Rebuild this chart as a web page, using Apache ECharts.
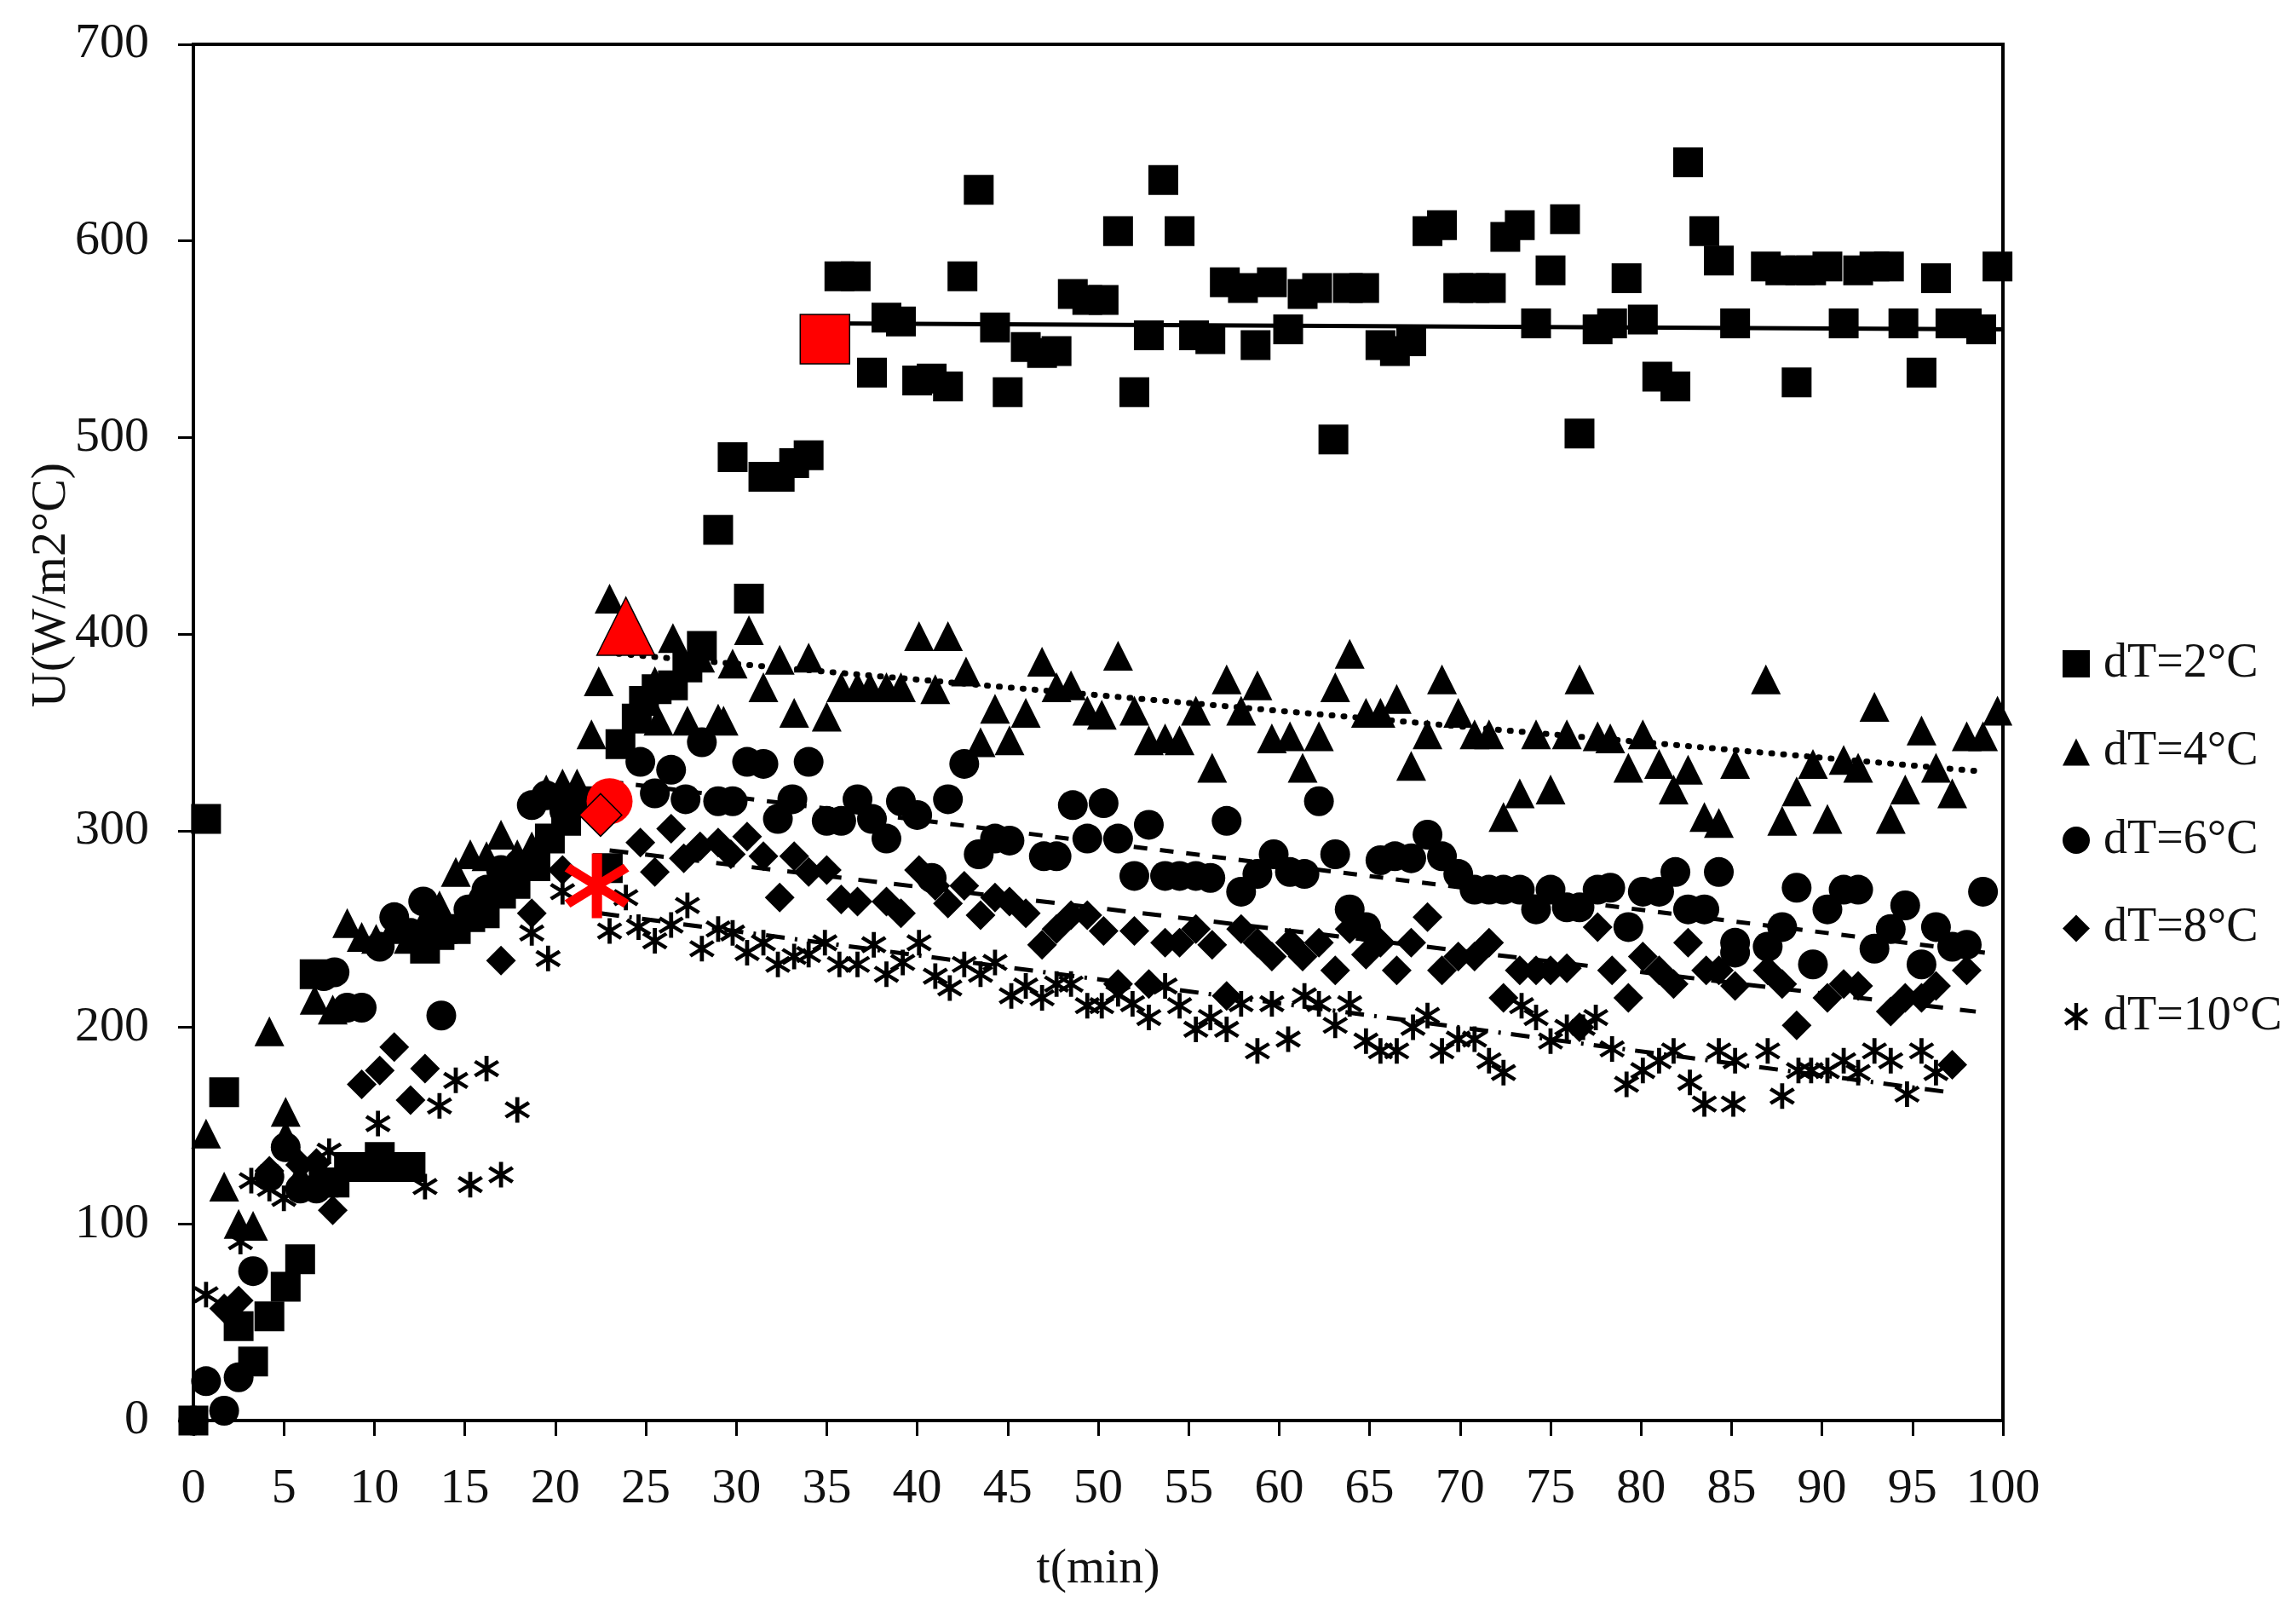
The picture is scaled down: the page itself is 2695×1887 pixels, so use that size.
<!DOCTYPE html>
<html><head><meta charset="utf-8">
<style>html,body{margin:0;padding:0;background:#fff}#c{width:2695px;height:1887px}</style>
<script src="https://cdn.jsdelivr.net/npm/echarts@6/dist/echarts.min.js"></script>
</head><body><div id="c"></div>
<script>
const xTicks = {min:0, max:100, step:5};
const yTicks = {min:0, max:700, step:100};
const seriesNames = ['dT=2°C','dT=4°C','dT=6°C','dT=8°C','dT=10°C'];

const dT2 = [[0,0],[0.7,306],[1.7,167],[2.5,48],[3.3,30],[4.2,53],[5.1,68],[5.9,82],[6.7,227],[7.2,121],[7.8,121],[8.6,129],[9.5,129],[10.3,134],[11.1,129],[12,129],[12.8,240],[13.6,247],[14.5,250],[15.3,256],[16.1,258],[17,268],[17.8,273],[18.9,282],[19.7,296],[20.6,305],[21.5,315],[22.9,281],[23.6,344],[24.5,357],[24.9,366],[25.6,372],[26.5,374],[27.3,383],[28.1,394],[29,453],[29.8,490],[30.7,418],[31.5,480],[32.4,480],[33.2,487],[34,491],[35.7,582],[36.6,582],[37.5,533],[38.3,561],[39.1,559],[40,529],[40.8,530],[41.7,526],[42.5,582],[43.4,626],[44.3,556],[45,523],[46,546],[46.9,543],[47.7,544],[48.6,573],[49.4,570],[50.3,570],[51.1,605],[52,523],[52.8,552],[53.6,631],[54.5,605],[55.3,552],[56.2,550],[57,579],[58,576],[58.7,547],[59.6,579],[60.5,555],[61.3,573],[62.1,576],[63,499],[63.8,576],[64.7,576],[65.6,547],[66.4,544],[67.3,549],[68.2,605],[69,608],[69.9,576],[70.8,576],[71.7,576],[72.5,602],[73.3,608],[74.2,558],[75,585],[75.8,611],[76.6,502],[77.6,555],[78.4,558],[79.2,581],[80.1,560],[80.9,531],[81.9,526],[82.6,640],[83.5,605],[84.3,590],[85.2,558],[86.9,587],[87.7,585],[88.6,528],[88.8,585],[89.4,585],[90.3,587],[91.2,558],[92,585],[92.9,587],[93.7,587],[94.5,558],[95.5,533],[96.3,581],[97.1,558],[98,558],[98.8,555],[99.7,587]];

const dT4 = [[0.7,146],[1.7,119],[2.5,100],[3.3,99],[4.2,198],[5.1,157],[5.1,145],[5.9,125],[6.7,214],[7.7,209],[8.5,253],[9.3,246],[10.1,245],[11,250],[11.9,245],[12.8,255],[13.6,262],[14.5,279],[15.3,288],[16.2,287],[17,298],[17.9,288],[18.7,292],[19.5,321],[20.4,324],[21.2,324],[22,349],[22.4,376],[23,418],[25.5,376],[25.7,356],[26.5,398],[27.3,356],[28,388],[29,357],[29.3,356],[29.8,385],[30.7,402],[31.5,373],[32.4,387],[33.2,360],[34,388],[35,358],[35.8,373],[36.7,373],[37.4,373],[38.3,373],[39.1,373],[40.1,399],[41,372],[41.7,399],[42.7,381],[43.5,345],[44.3,362],[45.1,346],[46,360],[46.9,386],[47.7,373],[48.5,374],[49.4,361],[50.2,359],[51.1,389],[52,361],[52.8,346],[53.7,347],[54.5,346],[55.4,361],[56.3,332],[57.1,377],[57.9,361],[58.8,374],[59.6,347],[60.6,348],[61.3,332],[62.2,348],[63.1,373],[63.9,390],[64.8,360],[65.6,360],[66.5,367],[67.3,333],[68.2,349],[69,377],[69.9,360],[70.8,349],[71.6,349],[72.4,307],[73.3,319],[74.2,349],[75,321],[75.9,349],[76.6,377],[77.6,348],[78.3,347],[79.3,332],[80.1,349],[81,334],[81.8,321],[82.6,331],[83.5,307],[84.3,304],[85.2,334],[86.9,377],[87.8,305],[88.6,320],[89.5,334],[90.3,306],[91.2,336],[92,332],[92.9,363],[93.8,306],[94.6,321],[95.5,351],[96.3,332],[97.2,319],[98,348],[98.9,348],[99.7,361]];

const dT6 = [[0,0],[0.7,20],[1.7,5],[2.5,22],[3.3,76],[4.2,124],[5.1,139],[5.9,118],[6.8,118],[7.2,226],[7.8,228],[8.5,210],[9.3,210],[10.3,241],[11.1,256],[12,248],[12.7,264],[13.7,206],[14.4,250],[15.2,260],[16,265],[16.2,270],[17,280],[18,283],[18.7,313],[19.5,318],[20.5,310],[24.7,335],[25.5,319],[26.4,331],[27.2,316],[28.1,345],[29,315],[29.8,315],[30.6,335],[31.5,334],[32.3,306],[33.1,316],[34,335],[35,305],[35.8,305],[36.7,316],[37.5,306],[38.3,296],[39.1,315],[40,308],[40.8,276],[41.7,316],[42.6,334],[43.4,288],[44.3,296],[45.1,295],[47,287],[47.7,287],[48.6,313],[49.4,296],[50.3,314],[51.1,296],[52,277],[52.8,303],[53.7,277],[54.5,277],[55.4,277],[56.2,276],[57.1,305],[57.9,269],[58.8,278],[59.7,288],[60.6,279],[61.4,278],[62.2,315],[63.1,288],[63.9,260],[64.8,251],[65.6,285],[66.4,287],[67.3,286],[68.2,298],[69,287],[69.9,278],[70.8,270],[71.6,270],[72.4,270],[73.3,270],[74.2,260],[75,270],[75.9,261],[76.6,261],[77.6,270],[78.3,271],[79.3,251],[80.1,269],[81,269],[81.9,279],[82.6,260],[83.5,260],[84.3,279],[85.2,243],[85.2,238],[87,241],[87.8,251],[88.6,271],[89.5,232],[90.3,260],[91.2,270],[92,270],[92.9,240],[93.8,250],[94.6,262],[95.5,232],[96.3,251],[97.2,241],[98,242],[98.9,269]];

const dT8 = [[1.7,57],[2.5,61],[4.2,127],[5.9,130],[6.8,131],[7.7,107],[9.3,171],[10.3,178],[11.1,190],[12,163],[12.8,179],[17,234],[18.7,258],[20.4,280],[24.7,294],[25.5,279],[26.4,301],[27.1,286],[28,292],[29,294],[29.7,288],[30.6,297],[31.5,287],[32.4,266],[33.2,287],[34,279],[35,280],[35.8,265],[36.7,264],[38.3,264],[39.1,258],[40.1,280],[41,272],[41.7,263],[42.6,272],[43.5,257],[44.3,266],[45.1,264],[46,258],[46.9,242],[47.7,250],[48.5,257],[49.4,257],[50.3,249],[51.1,222],[52,249],[52.8,222],[53.7,243],[54.5,243],[55.4,250],[56.3,242],[57.1,216],[57.9,250],[58.8,243],[59.6,236],[60.6,243],[61.3,236],[62.2,243],[63.1,229],[63.9,250],[64.8,237],[65.6,243],[66.5,229],[67.3,243],[68.2,256],[69,229],[69.9,236],[70.8,236],[71.6,243],[72.4,215],[73.3,229],[74.2,229],[75,229],[75.9,230],[76.6,200],[77.6,251],[78.4,229],[79.3,215],[80.1,236],[81,229],[81.8,222],[82.6,243],[83.6,229],[84.3,229],[85.2,221],[87,229],[87.8,222],[88.6,201],[90.3,215],[91.2,222],[92,221],[93.8,208],[94.6,215],[95.5,215],[96.3,221],[97.2,181],[98,229]];

const dT10 = [[0.7,64],[2.6,91],[3.2,122],[4.2,118],[5,113],[5.9,118],[7.5,137],[10.2,151],[12.8,119],[13.6,160],[14.5,173],[15.3,120],[16.2,179],[17,125],[17.9,158],[18.7,248],[19.6,235],[20.4,269],[23,249],[23.9,266],[24.6,251],[25.5,244],[26.4,252],[27.3,262],[28.1,240],[29,250],[29.8,248],[30.6,238],[31.5,243],[32.3,232],[33.2,236],[34,237],[34.9,243],[35.7,232],[36.7,232],[37.6,242],[38.3,227],[39.2,233],[40.1,243],[41,226],[41.8,220],[42.6,232],[43.5,227],[44.3,233],[45.2,216],[46,221],[46.9,215],[47.7,222],[48.5,222],[49.4,211],[50.2,211],[51.1,217],[51.9,212],[52.8,205],[53.7,221],[54.5,211],[55.4,199],[56.2,205],[57.1,199],[57.9,212],[58.8,188],[59.6,212],[60.5,194],[61.4,216],[62.2,212],[63.1,201],[63.9,212],[64.8,193],[65.6,188],[66.5,188],[67.4,200],[68.2,206],[69,188],[69.9,194],[70.8,194],[71.6,183],[72.4,177],[73.4,211],[74.2,205],[75,193],[75.9,200],[76.8,200],[77.5,205],[78.4,189],[79.2,171],[80.1,178],[81,183],[81.8,188],[82.7,172],[83.5,161],[84.3,188],[85.1,161],[85.2,183],[87,188],[87.8,165],[88.7,178],[89.4,178],[90.3,178],[91.2,183],[92,177],[92.9,188],[93.8,183],[94.7,166],[95.5,188],[96.3,177]];

const trend2 = [[35,558],[100,555]];
const trend4 = [[23.5,390],[99,330]];
const trend6 = [[23,325],[99,238]];
const trend8 = [[23,290],[98.5,208]];
const trend10 = [[22.5,258],[97,167]];

const onset2 = [[34.9,550]];
const onset4 = [[23.9,404]];
const onset6 = [[23,315]];
const onset8 = [[22.5,308]];
const onset10 = [[22.3,272]];

const star = 'path://M43,0H57V100H43ZM14,16.3L94,72.3L86,83.7L6,27.7ZM86,16.3L94,27.7L14,83.7L6,72.3Z';
const BLACK = '#000', RED = '#ff0000';

function pts(name, data, symbol, size){
  return {name, type:'scatter', data, symbol, symbolSize:size, clip:false, silent:true,
    itemStyle:{color:BLACK, opacity:1}};
}
function trend(data, lineType, width, cap){
  return {type:'line', data, showSymbol:false, silent:true, z:3,
    lineStyle:{color:BLACK, width, type:lineType, cap:cap||'butt'}};
}
function hit(data, symbol, size, border){
  return {type:'scatter', data, symbol, symbolSize:size, clip:false, silent:true, z:6,
    itemStyle:{color:RED, opacity:1, borderColor:border?BLACK:RED, borderWidth:border?1.5:0}};
}
const font = 'Liberation Serif';
const chart = echarts.init(document.getElementById('c'), null, {renderer:'canvas'});
chart.setOption({
  animation:false,
  backgroundColor:'#fff',
  textStyle:{fontFamily:font, color:'#000'},
  grid:{left:227, right:344, top:52, bottom:220, outerBoundsMode:'none', show:true, borderColor:BLACK, borderWidth:4, backgroundColor:'transparent'},
  xAxis:{type:'value', min:xTicks.min, max:xTicks.max, interval:xTicks.step,
    name:'t(min)', nameLocation:'middle', nameGap:146, nameMoveOverlap:false,
    nameTextStyle:{fontFamily:font, fontSize:58, color:'#111'},
    axisLine:{onZero:false, lineStyle:{color:BLACK, width:4}},
    axisTick:{show:true, inside:false, length:18, lineStyle:{color:BLACK, width:3}},
    axisLabel:{fontFamily:font, fontSize:58, color:'#111', margin:52},
    splitLine:{show:false}},
  yAxis:{type:'value', min:yTicks.min, max:yTicks.max, interval:yTicks.step,
    name:'U(W/m2°C)', nameLocation:'middle', nameGap:137, nameRotate:90, nameMoveOverlap:false,
    nameTextStyle:{fontFamily:font, fontSize:58, color:'#111', padding:[0,0,0,346]},
    axisLine:{onZero:false, lineStyle:{color:BLACK, width:4}},
    axisTick:{show:true, inside:false, length:18, lineStyle:{color:BLACK, width:3}},
    axisLabel:{fontFamily:font, fontSize:58, color:'#111', margin:52},
    splitLine:{show:false}},
  legend:{show:true, orient:'vertical', left:2416, top:746, itemGap:47.5, itemWidth:32, itemHeight:32,
    data:seriesNames.map((name,i)=>({name, icon:['rect','triangle','circle','diamond',star][i]})),
    selectedMode:false,
    textStyle:{fontFamily:font, fontSize:56, color:'#111', padding:[0,0,0,11]}},
  series:[
    pts(seriesNames[0], dT2, 'rect', 35),
    pts(seriesNames[1], dT4, 'triangle', 35),
    pts(seriesNames[2], dT6, 'circle', 35),
    pts(seriesNames[3], dT8, 'diamond', 35),
    pts(seriesNames[4], dT10, star, 30),
    trend(trend2,'solid',5),
    trend(trend4,[1,13],7,'round'),
    trend(trend6,[16,15],5),
    trend(trend8,[22,20],5),
    trend(trend10,[22,12,3,12],5),
    hit(onset2,'rect',58,true),
    hit(onset4,'triangle',68,true),
    hit(onset6,'circle',54,false),
    hit(onset8,'diamond',50,true),
    hit(onset10,star,76,false)
  ]
});
</script></body></html>
